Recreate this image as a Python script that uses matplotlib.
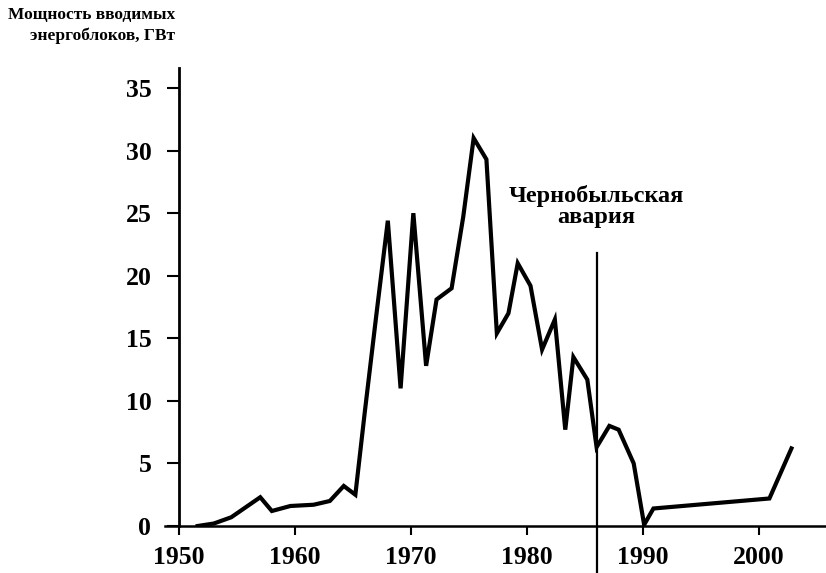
import matplotlib
matplotlib.use("Agg")
import matplotlib.pyplot as plt

# Мощность вводимых энергоблоков по годам (ГВт)
years = [1951.6, 1953, 1954.5, 1957, 1958, 1959.6, 1961.6, 1963, 1964.2, 1965.2,
         1966, 1967, 1968, 1969.1, 1970.2, 1971.3, 1972.2, 1973.5, 1974.5, 1975.4,
         1976.5, 1977.4, 1978.4, 1979.2, 1980.3, 1981.3, 1982.4, 1983.3, 1984.0,
         1985.2, 1986.0, 1987.1, 1987.9, 1989.2, 1990.1, 1990.9, 2000.9, 2002.8]
power = [0.0, 0.2, 0.7, 2.3, 1.2, 1.6, 1.7, 2.0, 3.2, 2.5,
         9.0, 16.8, 24.4, 11.0, 25.0, 12.8, 18.1, 19.0, 24.7, 31.0,
         29.3, 15.4, 17.0, 21.0, 19.2, 14.1, 16.5, 7.7, 13.5,
         11.7, 6.3, 8.0, 7.7, 5.0, 0.1, 1.4, 2.2, 6.2]

chernobyl_year = 1986
yticks = [0, 5, 10, 15, 20, 25, 30, 35]
xticks = [1950, 1960, 1970, 1980, 1990, 2000]

plt.rcParams['font.family'] = ['Liberation Serif', 'DejaVu Serif']
plt.rcParams['font.weight'] = 'bold'

fig = plt.figure(figsize=(8.26, 5.73), dpi=100)
ax = fig.add_axes([0.1998, 0.082, 0.8002, 0.7993])

ax.plot(years, power, color='black', lw=3.0, solid_joinstyle='miter')

# линия Чернобыльской аварии
ax.plot([chernobyl_year, chernobyl_year], [21.8, -3.8], color='black', lw=1.6,
        clip_on=False)
ax.text(chernobyl_year, 25.5, 'Чернобыльская\nавария', ha='center', va='center',
        fontsize=17.5, fontweight='bold', linespacing=1.0)

ax.set_xlim(1948.79, 2005.78)
ax.set_ylim(0, 36.6)
ax.set_xticks(xticks)
ax.set_yticks(yticks)

ax.spines['top'].set_visible(False)
ax.spines['right'].set_visible(False)
ax.spines['left'].set_position(('data', 1950))
ax.spines['left'].set_linewidth(2.0)
ax.spines['bottom'].set_linewidth(1.8)

ax.tick_params(axis='y', direction='out', length=9, width=1.5, pad=11, labelsize=18.5)
ax.tick_params(axis='x', direction='out', length=6.5, width=1.5, pad=8, labelsize=18.5)
for lab in ax.get_xticklabels() + ax.get_yticklabels():
    lab.set_fontweight('bold')

fig.text(0.212, 0.987, 'Мощность вводимых\nэнергоблоков, ГВт', ha='right', va='top',
         fontsize=12.5, fontweight='bold', multialignment='right', linespacing=1.3)

fig.savefig('out.png', dpi=100, facecolor='white')
